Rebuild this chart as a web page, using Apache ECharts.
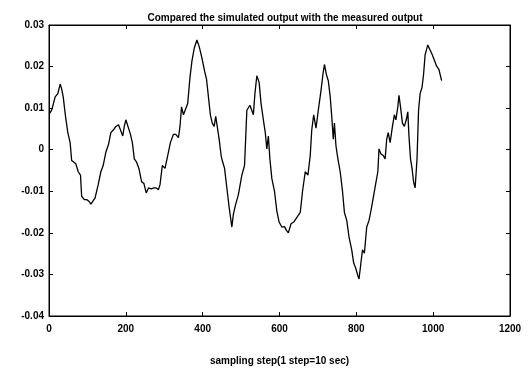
<!DOCTYPE html>
<html>
<head>
<meta charset="utf-8">
<script src="https://cdn.jsdelivr.net/npm/echarts@6/dist/echarts.min.js"></script>
<style>
  html, body { margin: 0; padding: 0; background: #fff; }
  #chart { width: 531px; height: 371px; }
</style>
</head>
<body>
<div id="chart"></div>
<script>
// sampling steps and output values
const steps = [2, 7, 16, 23, 29, 33, 37, 43, 49, 55, 59, 64, 70, 76, 82, 85, 92, 98, 104, 109,
  114, 120, 128, 135, 141, 148, 155, 161, 168, 174, 181, 186, 192, 196, 200, 207, 212, 217, 222, 228,
  234, 241, 247, 253, 259, 266, 273, 279, 285, 289, 295, 302, 309, 316, 324, 330, 337, 341, 345, 350,
  355, 361, 367, 372, 378, 385, 391, 398, 405, 410, 415, 420, 425, 430, 434, 439, 443, 448, 451, 457,
  463, 469, 476, 480, 486, 493, 502, 509, 515, 519, 523, 528, 532, 536, 541, 547, 552, 558, 563, 567,
  571, 575, 580, 587, 593, 599, 606, 613, 618, 623, 630, 637, 642, 648, 654, 660, 667, 674, 680, 684,
  689, 695, 701, 708, 713, 717, 722, 727, 732, 736, 740, 743, 747, 752, 758, 764, 769, 775, 781, 788,
  793, 798, 804, 807, 812, 816, 821, 827, 833, 838, 844, 850, 856, 859, 864, 870, 875, 879, 883, 888,
  894, 899, 903, 908, 911, 915, 920, 925, 930, 934, 937, 941, 945, 949, 953, 958, 962, 966, 971, 975,
  979, 986, 992, 998, 1003, 1009, 1015, 1022];
const output = [0.0088, 0.0095, 0.0127, 0.0135, 0.0158, 0.0146, 0.0127, 0.008, 0.0041, 0.0017, -0.0026, -0.003, -0.0034, -0.0053, -0.0061, -0.0112, -0.012, -0.012, -0.0124, -0.0131,
  -0.0135, -0.0116, -0.0084, -0.0053, -0.0038, -0.0006, 0.0013, 0.0041, 0.0048, 0.0056, 0.006, 0.0064, 0.0033, 0.0056, 0.0072, 0.0052, 0.0037, 0.0017, -0.0022, -0.003,
  -0.0045, -0.0077, -0.0081, -0.0104, -0.0092, -0.0094, -0.0092, -0.0092, -0.0096, -0.0084, -0.0038, -0.0045, -0.0014, 0.0017, 0.0037, 0.0037, 0.0029, 0.0056, 0.0103, 0.0084,
  0.008, 0.0111, 0.0174, 0.0213, 0.0244, 0.0264, 0.0248, 0.0221, 0.0189, 0.017, 0.0127, 0.0084, 0.0064, 0.0056, 0.008, 0.008, 0.0025, -0.0014, -0.0026, -0.0045,
  -0.0092, -0.0139, -0.0186, -0.0155, -0.0131, -0.0108, -0.0061, -0.0038, 0.0095, 0.0095, 0.0107, 0.0111, 0.0084, 0.0135, 0.0178, 0.0162, 0.0111, 0.0072, 0.0041, 0.0002,
  0.0033, -0.0022, -0.0069, -0.01, -0.0147, -0.0174, -0.0186, -0.0185, -0.0194, -0.02, -0.0178, -0.0174, -0.0178, -0.0159, -0.0151, -0.01, -0.0053, -0.0061, -0.0014, 0.0048,
  0.0084, 0.0052, 0.0095, 0.0142, 0.0181, 0.0205, 0.0181, 0.0166, 0.0127, 0.008, 0.0025, 0.0064, 0.0009, -0.0022, -0.0053, -0.01, -0.0151, -0.017, -0.021, -0.0241,
  -0.0272, -0.0284, -0.0303, -0.0311, -0.0272, -0.0241, -0.0249, -0.0186, -0.017, -0.0147, -0.0116, -0.0084, -0.0053, 0.0002, -0.001, -0.0014, -0.0022, 0.0025, 0.0041, 0.0017,
  0.0056, 0.0084, 0.0072, 0.0103, 0.0131, 0.0103, 0.0064, 0.0056, 0.0072, 0.0091, 0.0033, -0.0022, -0.0045, -0.0077, -0.0092, -0.0022, 0.0095, 0.0135, 0.015, 0.0181,
  0.0228, 0.0252, 0.024, 0.0228, 0.0232, 0.0201, 0.0193, 0.0166];

const xTicks = [0, 200, 400, 600, 800, 1000, 1200];
const yTicks = [-0.04, -0.03, -0.02, -0.01, 0, 0.01, 0.02, 0.03];

const font = 'Liberation Sans';
const hidden = { show: false };
const tickIn = { show: true, inside: true, length: 4, lineStyle: { color: '#000' } };
const frame = { show: true, onZero: false, lineStyle: { color: '#000' } };

const chart = echarts.init(document.getElementById('chart'));
chart.setOption({
  animation: false,
  title: {
    text: 'Compared the simulated output with the measured output',
    left: 280, top: 8, textAlign: 'center',
    textStyle: { fontFamily: font, fontSize: 10, fontWeight: 'bold', color: '#000' }
  },
  grid: {
    left: 49, right: 21, top: 25, bottom: 48,
    show: true, borderColor: '#000', borderWidth: 1
  },
  xAxis: [{
    type: 'value', min: xTicks[0], max: xTicks[xTicks.length - 1], interval: 200,
    name: 'sampling step(1 step=10 sec)', nameLocation: 'middle', nameGap: 40,
    nameTextStyle: { fontFamily: font, fontSize: 10, fontWeight: 'bold', color: '#000' },
    axisLine: frame, axisTick: tickIn, splitLine: hidden,
    axisLabel: { margin: 8, fontFamily: font, fontSize: 10, fontWeight: 'bold', color: '#000',
      formatter: v => String(v) }
  }, {
    type: 'value', position: 'top', min: xTicks[0], max: xTicks[xTicks.length - 1], interval: 200,
    axisLine: frame, axisTick: tickIn, axisLabel: hidden, splitLine: hidden
  }],
  yAxis: [{
    type: 'value', min: yTicks[0], max: yTicks[yTicks.length - 1], interval: 0.01,
    axisLine: frame, axisTick: tickIn, splitLine: hidden,
    axisLabel: {
      margin: 5, fontFamily: font, fontSize: 10, fontWeight: 'bold', color: '#000',
      formatter: v => (Math.abs(v) < 1e-9 ? '0' : v.toFixed(2))
    }
  }, {
    type: 'value', position: 'right', min: yTicks[0], max: yTicks[yTicks.length - 1], interval: 0.01,
    axisLine: frame, axisTick: tickIn, axisLabel: hidden, splitLine: hidden
  }],
  series: [{
    type: 'line',
    data: steps.map((s, i) => [s, output[i]]),
    showSymbol: false,
    lineStyle: { color: '#000', width: 1.3 }
  }]
});
</script>
</body>
</html>
